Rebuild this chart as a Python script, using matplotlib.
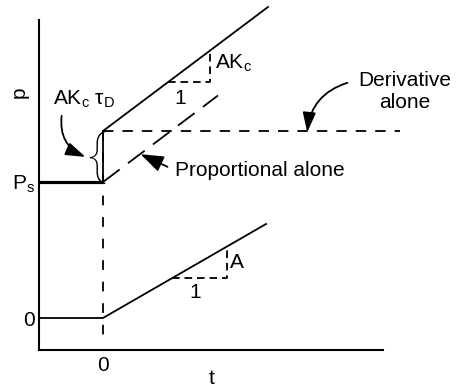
import matplotlib.pyplot as plt

plt.rcParams['font.family'] = 'Liberation Sans'
plt.rcParams['mathtext.fontset'] = 'custom'
plt.rcParams['mathtext.rm'] = 'Liberation Sans'
plt.rcParams['mathtext.default'] = 'regular'
plt.rcParams['lines.scale_dashes'] = False

# time axis range
t_min, t_max = -1.28, 5.6
p_min, p_max = -0.64, 5.96

# steady value before the step
Ps = 2.72

# controller output, PD response (jump AK_c tau_D then slope AK_c)
pd_t = [0.0, 3.3]
pd_p = [3.74, 6.22]
step_t = [0.0, 0.0]
step_p = [2.72, 3.74]
hold_t = [t_min, 0.0]
hold_p = [Ps, Ps]

# proportional alone / derivative alone
prop_t = [0.0, 2.3]
prop_p = [2.72, 4.45]
deriv_t = [0.0, 5.94]
deriv_p = [3.74, 3.74]

# ramp error input e = A t
err_t = [t_min, 0.0, 3.26]
err_v = [0.0, 0.0, 1.88]

# slope triangles
pd_tri_t = [1.3, 2.14, 2.14]
pd_tri_p = [4.715, 4.715, 5.345]
err_tri_t = [1.38, 2.48, 2.48]
err_tri_v = [0.80, 0.80, 1.44]

# t = 0 marker
zero_t = [0.0, 0.0]
zero_p = [3.74, -0.5]

fig = plt.figure(figsize=(4.59, 3.87), dpi=100)
ax = fig.add_axes([39 / 459, 37 / 387, 344 / 459, 330 / 387])

lw = 1.3
ax.plot(hold_t, hold_p, 'k', lw=2.3, solid_capstyle='butt')
ax.plot(step_t, step_p, 'k', lw=lw)
ax.plot(pd_t, pd_p, 'k', lw=lw, clip_on=False)
ax.plot(prop_t, prop_p, 'k', lw=lw, dashes=(15, 7.5))
ax.plot(deriv_t, deriv_p, 'k', lw=lw, dashes=(7.5, 6.5), clip_on=False)
ax.plot(err_t, err_v, 'k', lw=lw)
ax.plot(zero_t, zero_p, 'k', lw=lw, dashes=(7, 8.5))
ax.plot(pd_tri_t, pd_tri_p, 'k', lw=lw, dashes=(5.5, 3.5))
ax.plot(err_tri_t, err_tri_v, 'k', lw=lw, dashes=(5.5, 3.5))

ax.set_xlim(t_min, t_max)
ax.set_ylim(p_min, p_max)
for side in ['top', 'right']:
    ax.spines[side].set_visible(False)
for side in ['left', 'bottom']:
    ax.spines[side].set_linewidth(1.5)

fs = 15
ax.set_xticks([0])
ax.set_xticklabels(['0'], fontsize=fs)
ax.set_yticks([0, Ps])
ax.set_yticklabels(['0', 'P$_s$'], fontsize=fs)
ax.tick_params(length=0)
ax.tick_params(axis='x', pad=4)
ax.tick_params(axis='y', pad=3)
ax.set_xlabel('t', fontsize=fs)
ax.set_ylabel('p', fontsize=fs)
ax.xaxis.set_label_coords(0.503, -0.058)
ax.yaxis.set_label_coords(-0.03, 0.78)

ax.text(1.44, 2.96, 'Proportional alone', fontsize=fs, ha='left', va='center')
ax.annotate('', xy=(0.70, 3.30), xytext=(1.34, 3.0),
            arrowprops=dict(arrowstyle='-|>,head_length=0.7,head_width=0.25',
                            color='k', lw=1.3, mutation_scale=20))

ax.text(6.04, 4.52, 'Derivative\nalone', fontsize=fs, ha='center', va='center',
        multialignment='center', linespacing=1.2, clip_on=False)
ax.annotate('', xy=(4.08, 3.66), xytext=(4.94, 4.72),
            arrowprops=dict(arrowstyle='-|>,head_length=0.6,head_width=0.2',
                            color='k', lw=1.3, mutation_scale=20,
                            connectionstyle='arc3,rad=0.35'))

ax.text(-1.0, 4.26, 'AK$_c$ τ$_D$', fontsize=fs, ha='left', va='baseline')
ax.annotate('', xy=(-0.30, 3.2), xytext=(-0.82, 4.1),
            arrowprops=dict(arrowstyle='-|>,head_length=0.6,head_width=0.2',
                            color='k', lw=1.3, mutation_scale=20,
                            connectionstyle='arc3,rad=0.4'))
ax.text(-0.15, 3.22, '{', fontsize=39, family='Roboto', fontweight=200,
        ha='center', va='center')

ax.text(2.24, 5.1, 'AK$_c$', fontsize=fs, ha='left', va='center')
ax.text(1.54, 4.38, '1', fontsize=fs, ha='center', va='center')
ax.text(2.68, 1.12, 'A', fontsize=fs, ha='center', va='center')
ax.text(1.84, 0.52, '1', fontsize=fs, ha='center', va='center')

fig.savefig('out.png', dpi=100)
